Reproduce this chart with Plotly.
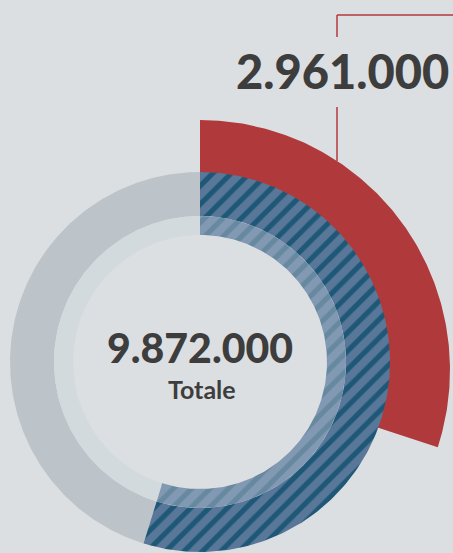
import numpy as np
import plotly.graph_objects as go

# ---- data ----
total_value = 9872000
blue_value = 5410000
red_value = 2961000
total_label = "9.872.000"
total_caption = "Totale"
red_label = "2.961.000"

# ---- style ----
BG = "#dcdfe2"
GREY = "#bdc4c9"
GREY_LIGHT = "#d3dadd"
RED = "#b03a3b"
BLUE = "#587799"
BLUE_STRIPE = "#1f5877"
BLUE_LIGHT = "#8299b4"
BLUE_LIGHT_STRIPE = "#6789a0"
TEXT = "#3d3d3d"

R_OUT, R_MID, R_IN = 190, 146, 127
RED_OUT, RED_IN, RED_CY = 250, 185, -8


def ring(a0, a1, r_in, r_out, cx=0.0, cy=0.0, n=200):
    """Ring segment polygon; angles are clockwise from 12 o'clock, in degrees."""
    t = np.radians(np.linspace(a0, a1, n))
    xo, yo = cx + r_out * np.sin(t), cy + r_out * np.cos(t)
    xi, yi = cx + r_in * np.sin(t[::-1]), cy + r_in * np.cos(t[::-1])
    return np.concatenate([xo, xi, xo[:1]]), np.concatenate([yo, yi, yo[:1]])


blue_deg = 360 * blue_value / total_value
red_deg = 360 * red_value / total_value

fig = go.Figure()

# red outer arc (behind)
x, y = ring(0, red_deg, RED_IN, RED_OUT, cy=RED_CY)
fig.add_trace(go.Scatter(x=x, y=y, fill="toself", fillcolor=RED, mode="lines",
                         line=dict(width=0), hoverinfo="skip"))
# grey track (remainder)
x, y = ring(blue_deg, 360, R_MID, R_OUT)
fig.add_trace(go.Scatter(x=x, y=y, fill="toself", fillcolor=GREY, mode="lines",
                         line=dict(width=0), hoverinfo="skip"))
x, y = ring(blue_deg, 360, R_IN, R_MID)
fig.add_trace(go.Scatter(x=x, y=y, fill="toself", fillcolor=GREY_LIGHT, mode="lines",
                         line=dict(width=0), hoverinfo="skip"))
# blue hatched segment
x, y = ring(0, blue_deg, R_MID, R_OUT)
fig.add_trace(go.Scatter(x=x, y=y, fill="toself", fillcolor=BLUE, mode="lines",
                         line=dict(width=0), hoverinfo="skip",
                         fillpattern=dict(shape="/", size=13, solidity=0.4,
                                          fgcolor=BLUE_STRIPE, bgcolor=BLUE,
                                          fillmode="replace")))
x, y = ring(0, blue_deg, R_IN, R_MID)
fig.add_trace(go.Scatter(x=x, y=y, fill="toself", fillcolor=BLUE_LIGHT, mode="lines",
                         line=dict(width=0), hoverinfo="skip",
                         fillpattern=dict(shape="/", size=13, solidity=0.4,
                                          fgcolor=BLUE_LIGHT_STRIPE, bgcolor=BLUE_LIGHT,
                                          fillmode="replace")))

# leader line for the red value
lx = 137
ly_end = RED_CY + np.sqrt(RED_OUT ** 2 - lx ** 2)
line_style = dict(color="#b5383b", width=1.5)
fig.add_shape(type="line", x0=lx, x1=lx, y0=347, y1=325, line=line_style)
fig.add_shape(type="line", x0=lx, x1=lx, y0=255, y1=ly_end, line=line_style)
fig.add_shape(type="line", x0=lx, x1=260, y0=347, y1=347, line=line_style)

fig.add_annotation(x=142, y=291, text=red_label, showarrow=False,
                   font=dict(family="Lato", size=47, color=TEXT, weight=900),
                   xanchor="center", yanchor="middle")
fig.add_annotation(x=0, y=15, text=total_label, showarrow=False,
                   font=dict(family="Lato", size=41, color=TEXT, weight=900),
                   xanchor="center", yanchor="middle")
fig.add_annotation(x=2, y=-27, text=total_caption, showarrow=False,
                   font=dict(family="Lato", size=25, color=TEXT, weight=700),
                   xanchor="center", yanchor="middle")

fig.update_layout(
    width=453, height=553,
    margin=dict(l=0, r=0, t=0, b=0),
    paper_bgcolor=BG, plot_bgcolor=BG,
    showlegend=False,
    xaxis=dict(range=[-200, 253], visible=False, fixedrange=True),
    yaxis=dict(range=[-191, 362], visible=False, fixedrange=True),
)

fig.write_html(
    "out.html",
    config={"displayModeBar": False},
    post_script="document.body.style.margin='0';"
                "document.body.style.overflow='hidden';"
                "document.body.style.background='" + BG + "';",
)
